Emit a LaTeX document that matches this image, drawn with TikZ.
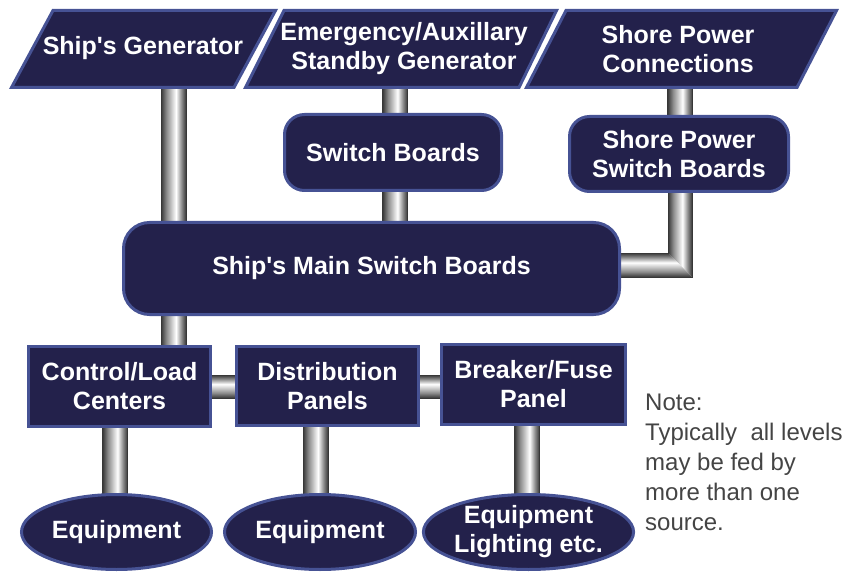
\documentclass[tikz,border=0pt]{standalone}
\usepackage{fontspec}
\setmainfont{Liberation Sans}
\usetikzlibrary{shapes.geometric,calc,backgrounds}
\definecolor{navy}{RGB}{35,33,75}
\definecolor{edgeblue}{RGB}{70,82,148}
\definecolor{pipedark}{RGB}{55,55,55}
\definecolor{pipemid}{RGB}{140,140,140}
\definecolor{notegray}{RGB}{68,68,68}
\pgfdeclarehorizontalshading{pipeshade}{100bp}{color(0bp)=(pipedark); color(25bp)=(pipedark); color(36bp)=(pipemid); color(55bp)=(white); color(66bp)=(pipemid); color(75bp)=(pipedark); color(100bp)=(pipedark)}
\tikzset{
  boxfill/.style={fill=navy, draw=edgeblue, line width=3pt},
  btext/.style={text=white, font=\bfseries\fontsize{25}{29}\selectfont, align=center, inner sep=0pt},
  rbox/.style={boxfill, btext, rectangle},
  ebox/.style={boxfill, btext, ellipse},
  vpipe/.style={shading=pipeshade},
  hpipe/.style={shading=pipeshade, shading angle=90},
  pipeline/.style={draw=pipedark, line width=0.7pt},
}
\newcommand\myvpipe[3]{\shade[vpipe] ($(#1 |- #2)+(-12.5,0)$) rectangle ($(#1 |- #3)+(12.5,0)$);
  \draw[pipeline] ($(#1 |- #2)+(-12.5,0)$) -- ($(#1 |- #3)+(-12.5,0)$) ($(#1 |- #2)+(12.5,0)$) -- ($(#1 |- #3)+(12.5,0)$);}
\newcommand\myhpipe[3]{\shade[hpipe] ($(#2 |- #1)+(0,-11.5)$) rectangle ($(#3 |- #1)+(0,11.5)$);
  \draw[pipeline] ($(#2 |- #1)+(0,-11.5)$) -- ($(#3 |- #1)+(0,-11.5)$) ($(#2 |- #1)+(0,11.5)$) -- ($(#3 |- #1)+(0,11.5)$);}
\begin{document}
\begin{tikzpicture}[x=1pt,y=-1pt]
\useasboundingbox (0,0) rectangle (846,572);
% top sources (parallelograms)
\draw[boxfill] (53,10.5) -- (275.5,10.5) -- (234,87.5) -- (11.5,87.5) -- cycle;
\node[btext] (gen) at (143,48.5) {Ship\textquotesingle s Generator};
\draw[boxfill] (284,10.5) -- (556.5,10.5) -- (519,87.5) -- (245.5,87.5) -- cycle;
\node[btext] (em) at (404,49) {Emergency/Auxillary\\Standby Generator};
\draw[boxfill] (566,10.5) -- (836.5,10.5) -- (797,87.5) -- (526.5,87.5) -- cycle;
\node[btext] (sh) at (678,49) {Shore Power\\Connections};
% switch boards
\node[rbox, minimum width=217pt, minimum height=76pt, rounded corners=20pt] (sb) at (393,152.5) {Switch Boards};
\node[rbox, minimum width=219pt, minimum height=75pt, rounded corners=20pt] (shsb) at (679,154) {Shore Power\\Switch Boards};
\node[rbox, minimum width=496pt, minimum height=92pt, rounded corners=26pt] (main) at (371.5,268.5) {Ship\textquotesingle s Main Switch Boards};
% panels
\node[rbox, minimum width=182pt, minimum height=80pt] (ctrl) at (119.5,386.5) {Control/Load\\Centers};
\node[rbox, minimum width=182pt, minimum height=79pt] (dist) at (327.5,386) {Distribution\\Panels};
\node[rbox, minimum width=184pt, minimum height=80pt] (brk) at (533.5,384.5) {Breaker/Fuse\\Panel};
% equipment
\node[ebox, minimum width=190pt, minimum height=75pt] (eq1) at (116.5,532) {Equipment};
\node[ebox, minimum width=191pt, minimum height=75pt] (eq2) at (320,532) {Equipment};
\node[ebox, minimum width=190pt, minimum height=75pt] (eq3) at (528.5,532) {Equipment\\Lighting etc.};
% note
\node[anchor=north west, align=left, inner sep=0pt, text=notegray, font=\fontsize{24}{30}\selectfont] (note) at (645,394)
  {Note:\\Typically\ \ all levels\\may be fed by\\more than one\\source.};
% pipes
\coordinate (px1) at (173.5,0);
\coordinate (px2) at (395,0);
\coordinate (px3) at (680,0);
\coordinate (px4) at (115,0);
\coordinate (px5) at (315.5,0);
\coordinate (px6) at (527,0);
\coordinate (py1) at (0,386.5);
\coordinate (elb) at (680,265);
\coordinate (eIn) at ($(elb)+(-12,-12)$);
\coordinate (eOut) at ($(elb)+(12,12)$);
\begin{scope}[on background layer]
  \myvpipe{px1}{gen}{main}
  \myvpipe{px1}{main}{ctrl}
  \myvpipe{px2}{em}{sb}
  \myvpipe{px2}{sb}{main}
  \myvpipe{px3}{sh}{shsb}
  \myvpipe{px4}{ctrl}{eq1}
  \myvpipe{px5}{dist}{eq2}
  \myvpipe{px6}{brk}{eq3}
  \myhpipe{py1}{ctrl}{dist}
  \myhpipe{py1}{dist}{brk}
  % elbow from shore power switch boards to main switch boards
  \shade[vpipe] (eIn |- shsb.center) -- (eOut |- shsb.center) -- (eOut) -- (eIn) -- cycle;
  \shade[hpipe] (main.center |- eIn) -- (eIn) -- (eOut) -- (main.center |- eOut) -- cycle;
  \draw[pipeline] (eIn |- shsb.center) -- (eIn) -- (main.center |- eIn);
  \draw[pipeline] (eOut |- shsb.center) -- (eOut) -- (main.center |- eOut);
\end{scope}
\end{tikzpicture}
\end{document}
